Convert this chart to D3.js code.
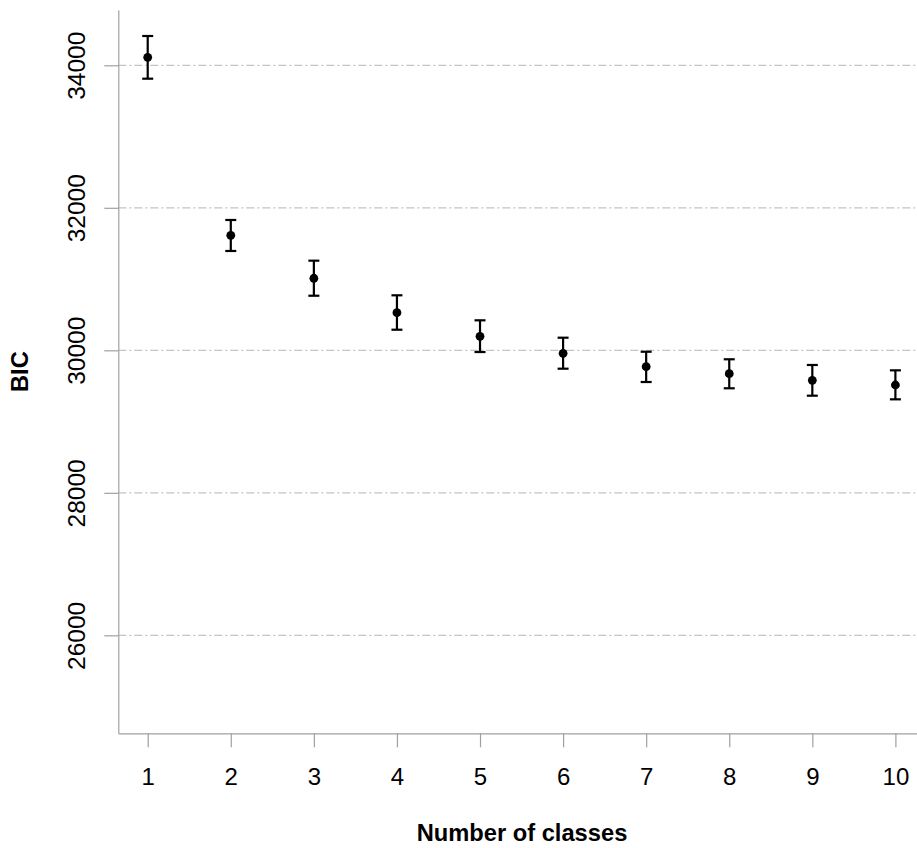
<!DOCTYPE html>
<html>
<head>
<meta charset="utf-8">
<script src="https://cdn.jsdelivr.net/npm/d3@7"></script>
<style>
  html, body { margin: 0; padding: 0; background: #fff; }
  svg { display: block; }
  text { font-family: "Liberation Sans", Arial, Helvetica, sans-serif; fill: #000; }
</style>
</head>
<body>
<svg id="chart" width="917" height="848"></svg>
<script>
// BIC by number of latent classes, with interval bounds
const classes = [1, 2, 3, 4, 5, 6, 7, 8, 9, 10];
const bic     = [34112, 31614, 31011, 30528, 30196, 29958, 29770, 29672, 29579, 29513];
const bicLow  = [33812, 31394, 30766, 30289, 29976, 29742, 29555, 29467, 29363, 29312];
const bicHigh = [34411, 31829, 31258, 30772, 30421, 30177, 29980, 29874, 29794, 29719];
const yTicks  = [26000, 28000, 30000, 32000, 34000];

const svg = d3.select("#chart");
const plotLeft = 118.3, plotRight = 917, plotTop = 10, plotBottom = 733.3;

const x = d3.scaleLinear().domain([0.646, 10.26]).range([plotLeft, plotRight]);
const y = d3.scaleLinear().domain([24625, 34776]).range([plotBottom, plotTop]);

const axisColor = "#a0a0a0";

// horizontal reference lines
svg.append("g").selectAll("line").data(yTicks).join("line")
  .attr("x1", plotLeft).attr("x2", plotRight)
  .attr("y1", d => y(d)).attr("y2", d => y(d))
  .attr("stroke", "#c4c4c4").attr("stroke-width", 1.2)
  .attr("stroke-dasharray", "8,3,2,3");

// y axis
const yAxis = svg.append("g").attr("transform", `translate(${plotLeft},0)`)
  .call(d3.axisLeft(y).tickValues(yTicks).tickSize(14).tickSizeOuter(0).tickFormat(d3.format("d")));
yAxis.select(".domain").attr("stroke", axisColor).attr("stroke-width", 1.2);
yAxis.selectAll(".tick line").attr("stroke", axisColor).attr("stroke-width", 1.2);
yAxis.selectAll(".tick text")
  .attr("x", null).attr("dy", null)
  .attr("transform", "translate(-33,0) rotate(-90)")
  .attr("text-anchor", "middle")
  .style("font-size", "24.5px");

// x axis
const xAxis = svg.append("g").attr("transform", `translate(0,${plotBottom})`)
  .call(d3.axisBottom(x).tickValues(classes).tickSize(14).tickSizeOuter(0).tickFormat(d3.format("d")));
xAxis.select(".domain").attr("stroke", axisColor).attr("stroke-width", 1.2);
xAxis.selectAll(".tick line").attr("stroke", axisColor).attr("stroke-width", 1.2);
xAxis.selectAll(".tick text")
  .attr("y", 52).attr("dy", null)
  .style("font-size", "24px");

// axis titles
svg.append("text")
  .attr("x", 522).attr("y", 841)
  .attr("text-anchor", "middle")
  .style("font-size", "23.7px").style("font-weight", "bold")
  .text("Number of classes");

svg.append("text")
  .attr("transform", `translate(28,${(plotTop + plotBottom) / 2}) rotate(-90)`)
  .attr("text-anchor", "middle")
  .style("font-size", "23.7px").style("font-weight", "bold")
  .text("BIC");

// error bars
const idx = d3.range(classes.length);
const bars = svg.append("g").attr("stroke", "#000").attr("stroke-width", 2.2);
bars.selectAll("line.v").data(idx).join("line").attr("class", "v")
  .attr("x1", i => x(classes[i])).attr("x2", i => x(classes[i]))
  .attr("y1", i => y(bicLow[i])).attr("y2", i => y(bicHigh[i]));
bars.selectAll("line.hi").data(idx).join("line").attr("class", "hi")
  .attr("x1", i => x(classes[i]) - 5.5).attr("x2", i => x(classes[i]) + 5.5)
  .attr("y1", i => y(bicHigh[i])).attr("y2", i => y(bicHigh[i]));
bars.selectAll("line.lo").data(idx).join("line").attr("class", "lo")
  .attr("x1", i => x(classes[i]) - 5.5).attr("x2", i => x(classes[i]) + 5.5)
  .attr("y1", i => y(bicLow[i])).attr("y2", i => y(bicLow[i]));

// point estimates
svg.append("g").selectAll("circle").data(idx).join("circle")
  .attr("cx", i => x(classes[i])).attr("cy", i => y(bic[i]))
  .attr("r", 4.4).attr("fill", "#000");
</script>
</body>
</html>
